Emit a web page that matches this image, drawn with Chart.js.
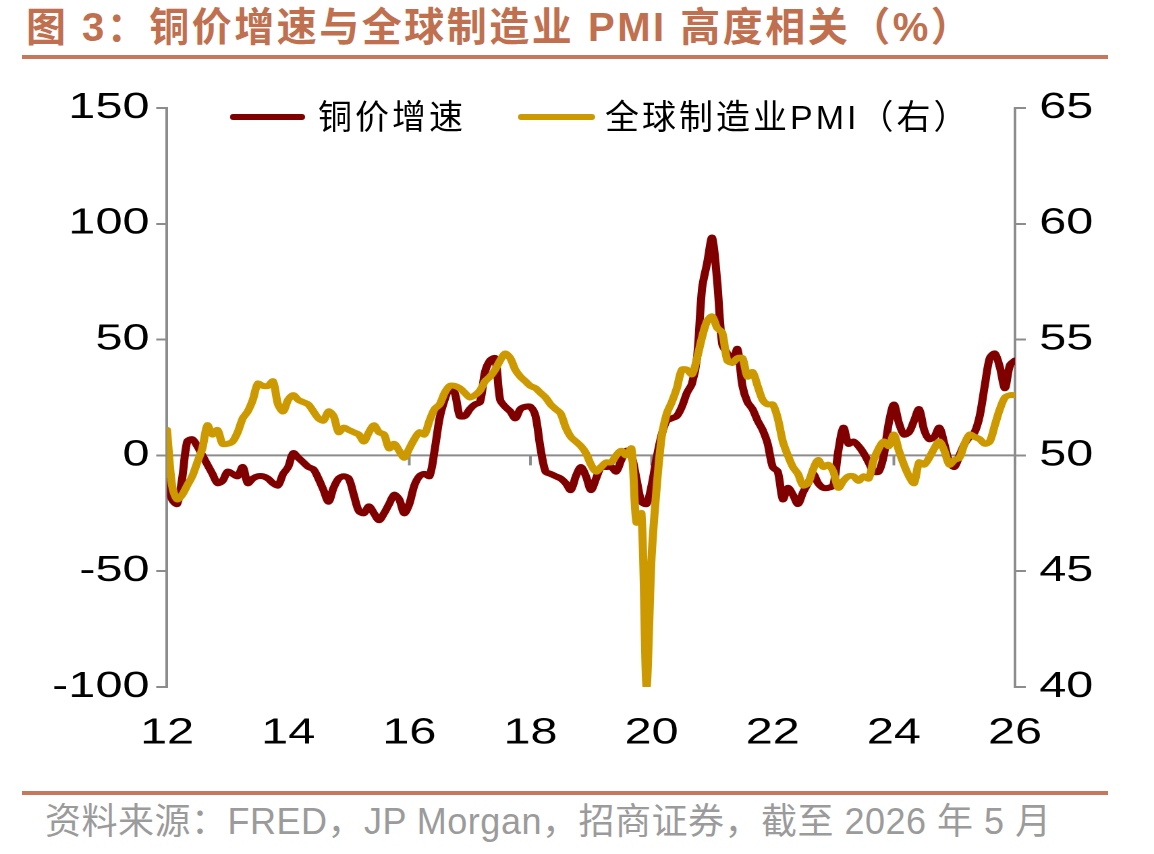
<!DOCTYPE html>
<html>
<head>
<meta charset="utf-8">
<script src="https://cdn.jsdelivr.net/npm/chart.js@4.4.1/dist/chart.umd.min.js"></script>
<style>
  body { margin: 0; width: 1154px; height: 854px; background: #fff; position: relative; overflow: hidden;
         font-family: "Liberation Sans", "Noto Sans CJK SC", sans-serif; }
  #title { position: absolute; left: 26px; top: 2px; font-size: 40px; font-weight: bold; color: #C0704E;
           letter-spacing: 2.5px; white-space: nowrap; line-height: 50px; }
  .rule { position: absolute; left: 22px; width: 1086px; height: 4px; background: #C8775A; }
  #source { position: absolute; left: 45px; top: 800px; font-size: 36px; color: #9B9B9B; white-space: nowrap;
            line-height: 44px; letter-spacing: 0.5px; }
  #wrap { position: absolute; left: 0; top: 70px; height: 720px; transform-origin: 0 0; }
  .key { position: absolute; height: 6px; border-radius: 3px; }
  .ktext { position: absolute; top: 97px; line-height: 40px; font-size: 34px; letter-spacing: 3px;
           color: #000; white-space: nowrap; }
</style>
</head>
<body>
<div id="title">图 3：铜价增速与全球制造业 PMI 高度相关（%）</div>
<div class="rule" style="top:55px"></div>

<div id="wrap"><canvas id="chart"></canvas></div>

<div class="key" style="left:230px;top:114px;width:75px;background:#800000"></div>
<div class="ktext" style="left:318px">铜价增速</div>
<div class="key" style="left:518px;top:114px;width:77px;background:#CC9900"></div>
<div class="ktext" style="left:605px">全球制造业PMI（右）</div>

<div class="rule" style="top:791px"></div>
<div id="source">资料来源：FRED，JP Morgan，招商证券，截至 2026 年 5 月</div>

<script>
// Monthly values, Jan 2012 .. Jan 2026 (x axis shows two-digit years)
const startYear = 12;
const xTicks = [12, 14, 16, 18, 20, 22, 24, 26];
const leftTicks = [-100, -50, 0, 50, 100, 150];
const rightTicks = [40, 45, 50, 55, 60, 65];

// 铜价增速 (%, left axis)
const copperGrowth = [
  -11, -19, -21, -10, 6, 7, 4, 0, -4, -8, -12, -11,       // 2012
  -7, -8, -9, -5, -12, -10, -9, -9, -10, -12, -13, -8,    // 2013
  -5, 1, -1, -3, -5, -6, -10, -15, -20, -14, -10, -9,     // 2014
  -10, -17, -24, -25, -22, -25, -28, -25, -21, -17, -19, -25, // 2015
  -21, -13, -9, -8, -9, 2, 16, 24, 29, 27, 17, 17,        // 2016
  20, 22, 23, 36, 41, 42, 24, 21, 19, 16, 20, 21,         // 2017
  21, 17, 3, -7, -8, -9, -10, -12, -15, -9, -5, -9,       // 2018
  -15, -10, -5, -5, -5, -7, -2, 2, 0, -10, -20, -21,      // 2019
  -13, -1, 9, 15, 16, 17, 21, 27, 31, 42, 72, 83,         // 2020
  94, 75, 48, 44, 40, 46, 30, 23, 20, 15, 11, 5,          // 2021
  -5, -7, -19, -14, -17, -21, -16, -12, -8, -12, -14, -14, // 2022
  -13, 2, 12, 5, 6, 4, 1, -3, -7, -7, 0, 14,              // 2023
  22, 14, 9, 10, 15, 20, 11, 7, 8, 12, 5, -3,             // 2024
  -5, 0, 5, 8, 10, 17, 30, 42, 44, 38, 29, 39,            // 2025
  41                                                      // 2026
];

// 全球制造业PMI (right axis)
const globalPmi = [
  51.1, 48.7, 48.1, 48.3, 48.7, 49.1, 49.7, 50.3, 51.3, 50.9, 51.1, 50.5, // 2012
  50.5, 50.6, 51.0, 51.6, 51.9, 52.4, 53.1, 53.0, 53.0, 53.2, 52.2, 51.9, // 2013
  52.4, 52.6, 52.4, 52.3, 52.2, 51.9, 51.6, 51.5, 51.9, 51.7, 51.0, 51.2, // 2014
  51.1, 51.0, 50.9, 50.6, 51.0, 51.3, 51.0, 50.9, 50.3, 50.5, 50.2, 49.9, // 2015
  50.3, 50.7, 51.0, 50.9, 51.5, 52.0, 52.2, 52.7, 53.0, 53.0, 52.9, 52.7, // 2016
  52.5, 52.6, 52.8, 53.2, 53.4, 53.7, 54.1, 54.4, 54.2, 53.7, 53.4, 53.2, // 2017
  53.0, 52.9, 52.7, 52.5, 52.2, 52.0, 51.8, 51.2, 50.8, 50.6, 50.4, 50.1, // 2018
  49.6, 49.3, 49.5, 49.7, 49.7, 50.0, 50.2, 50.0, 50.3, 47.1, 47.5, 40.0, // 2019
  45.6, 48.6, 50.8, 51.8, 52.3, 52.9, 53.7, 53.7, 53.5, 54.2, 55.1, 55.8, // 2020
  56.0, 55.5, 55.3, 54.1, 54.0, 54.2, 54.2, 53.4, 53.6, 53.0, 52.4, 52.2, // 2021
  52.2, 51.6, 50.6, 50.0, 49.5, 49.2, 48.7, 48.8, 49.4, 49.8, 49.5, 49.6, // 2022
  49.3, 48.6, 48.9, 49.1, 49.1, 48.9, 49.1, 49.0, 49.8, 50.3, 50.6, 50.4, // 2023
  50.9, 50.2, 49.6, 49.1, 48.8, 49.7, 49.6, 49.9, 50.3, 50.6, 50.2, 49.6, // 2024
  49.8, 49.9, 50.5, 50.9, 50.8, 50.7, 50.5, 50.6, 51.3, 52.0, 52.5, 52.6, // 2025
  52.6                                                                    // 2026
];

const copperColor = '#800000';
const pmiColor = '#CC9900';
const axisGray = '#8C8C8C';

// the plot in the source picture is stretched sideways, so draw narrow and widen it
const W = 855;
const H = 720;
const K = 1154 / W;
const plotLeft = 167 / K;
const plotRight = 1015 / K;

const wrap = document.getElementById('wrap');
wrap.style.width = W + 'px';
wrap.style.transform = 'scaleX(' + K + ')';
const canvas = document.getElementById('chart');
canvas.width = W;
canvas.height = H;
canvas.style.width = W + 'px';
canvas.style.height = H + 'px';

function toPoints(values) {
  return values.map(function(v, i) { return { x: startYear + i / 12, y: v }; });
}

// zero line of the left axis with the year tick marks hanging below it
const zeroAxisPlugin = {
  id: 'zeroAxis',
  beforeDatasetsDraw(chart) {
    const { ctx, chartArea, scales } = chart;
    const y0 = scales.y.getPixelForValue(0);
    ctx.save();
    ctx.strokeStyle = axisGray;
    ctx.lineWidth = 2;
    ctx.beginPath();
    ctx.moveTo(chartArea.left, y0);
    ctx.lineTo(chartArea.right, y0);
    xTicks.forEach(function(v) {
      const x = scales.x.getPixelForValue(v);
      ctx.moveTo(x, y0);
      ctx.lineTo(x, y0 + 10);
    });
    ctx.stroke();
    ctx.restore();
  }
};

const tickFont = { family: '"Liberation Sans", Arial, sans-serif', size: 36 };

new Chart(canvas.getContext('2d'), {
  type: 'line',
  data: {
    datasets: [
      {
        label: '铜价增速',
        data: toPoints(copperGrowth),
        yAxisID: 'y',
        borderColor: copperColor,
        borderWidth: 6,
        pointRadius: 0,
        tension: 0.3,
        borderJoinStyle: 'round',
        borderCapStyle: 'round',
        order: 1
      },
      {
        label: '全球制造业PMI（右）',
        data: toPoints(globalPmi),
        yAxisID: 'y1',
        borderColor: pmiColor,
        borderWidth: 6,
        pointRadius: 0,
        tension: 0.3,
        borderJoinStyle: 'round',
        borderCapStyle: 'round',
        order: 0
      }
    ]
  },
  options: {
    responsive: false,
    devicePixelRatio: 2,
    animation: false,
    events: [],
    layout: { padding: { top: 38, left: 0, right: 0, bottom: 0 } },
    plugins: {
      legend: { display: false },
      tooltip: { enabled: false }
    },
    scales: {
      x: {
        type: 'linear',
        min: 12,
        max: 26,
        afterBuildTicks: function(scale) { scale.ticks = xTicks.map(function(v) { return { value: v }; }); },
        afterFit: function(scale) { scale.height = H - 617; },
        grid: { display: false, drawTicks: false },
        border: { display: false },
        ticks: { color: '#000', font: tickFont, padding: 25, maxRotation: 0, autoSkip: false }
      },
      y: {
        position: 'left',
        min: -100,
        max: 150,
        afterBuildTicks: function(scale) { scale.ticks = leftTicks.map(function(v) { return { value: v }; }); },
        afterFit: function(scale) { scale.width = plotLeft; },
        grid: { drawOnChartArea: false, drawTicks: true, tickLength: 8, color: axisGray, lineWidth: 2 },
        border: { color: axisGray, width: 2 },
        ticks: { color: '#000', font: tickFont, padding: 5 }
      },
      y1: {
        position: 'right',
        min: 40,
        max: 65,
        afterBuildTicks: function(scale) { scale.ticks = rightTicks.map(function(v) { return { value: v }; }); },
        afterFit: function(scale) { scale.width = W - plotRight; },
        grid: { drawOnChartArea: false, drawTicks: true, tickLength: 8, color: axisGray, lineWidth: 2 },
        border: { color: axisGray, width: 2 },
        ticks: { color: '#000', font: tickFont, padding: 10 }
      }
    }
  },
  plugins: [zeroAxisPlugin]
});
</script>
</body>
</html>
